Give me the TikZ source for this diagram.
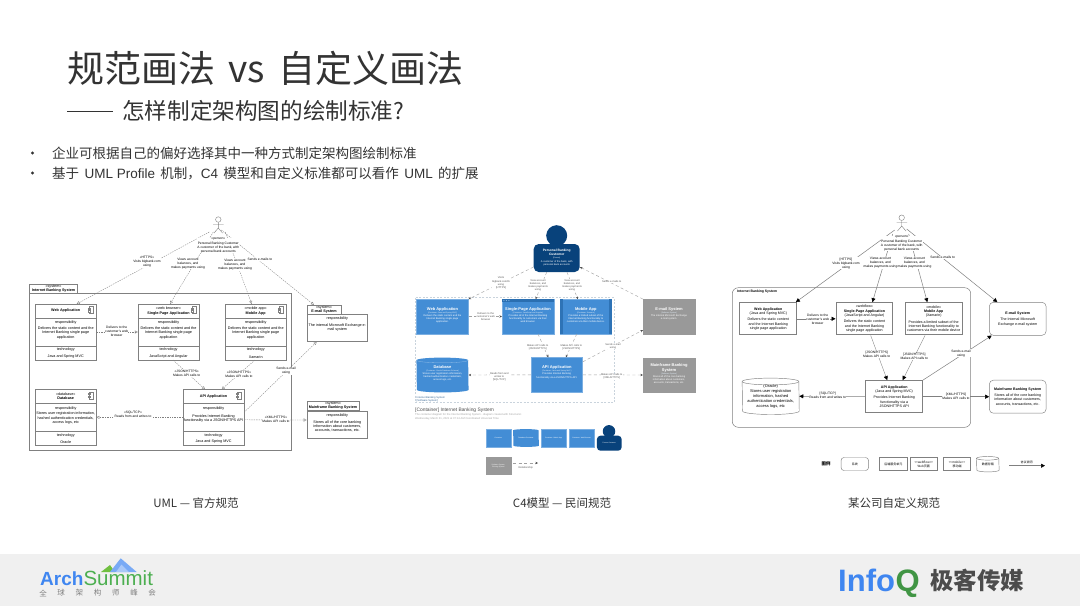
\documentclass[tikz,border=0pt]{standalone}
\usepackage{fontspec}
\usepackage{xcolor}
\usepackage{tikz}
\setmainfont{Liberation Sans}
\newfontfamily\cjk{Noto Sans CJK SC}
\newfontfamily\lat{Liberation Sans}
\usetikzlibrary{arrows.meta, positioning, shapes.geometric}
\definecolor{inkdark}{HTML}{333333}
\definecolor{c4blue}{HTML}{438DD5}
\definecolor{c4dark}{HTML}{08427B}
\definecolor{c4gray}{HTML}{999999}
\definecolor{c4line}{HTML}{A0A0A0}
\definecolor{c4frame}{HTML}{C9D3DC}
\definecolor{linegray}{HTML}{808080}
\definecolor{bandgray}{HTML}{F0F0F0}
\definecolor{logoblue}{HTML}{3F86F0}
\definecolor{logogreen}{HTML}{4CAF50}
% valec pres pojmenovany uzel: #1 uzel, #2 rx, #3 ry
\newcommand{\cylpath}[3]{
  ([yshift=-#3]#1.north west) arc[start angle=180, end angle=0, x radius=#2, y radius=#3]
  -- ([yshift=#3]#1.south east) arc[start angle=0, end angle=-180, x radius=#2, y radius=#3] -- cycle
}
\newcommand{\cyllip}[3]{
  ([yshift=-#3]#1.north west) arc[start angle=180, end angle=360, x radius=#2, y radius=#3]
}
\tikzset{
  tiny/.style={inner sep=0pt, align=center, font=\fontsize{3.3}{4.1}\selectfont},
  boxtxt/.style={inner sep=0pt, align=center, font=\fontsize{3.7}{4.4}\selectfont},
  lbl/.style={tiny, fill=white, inner sep=0.3pt},
  umlbox/.style={draw=linegray, line width=.5pt, fill=white, minimum width=60.7pt, minimum height=55.5pt, inner sep=0pt},
  umltab/.style={draw=linegray, line width=.5pt, fill=white, inner sep=0pt, align=center, font=\fontsize{3.7}{4.2}\selectfont},
  umlflow/.style={draw=linegray, line width=.35pt, dash pattern=on 1.4pt off 1pt, -{Triangle[open, length=3pt, width=3pt]}},
  c4box/.style={fill=c4blue, draw=c4blue!70!white, line width=.4pt, minimum width=51.7pt, minimum height=34.4pt, inner sep=0pt},
  c4gbox/.style={c4box, fill=c4gray, draw=c4gray},
  c4txt/.style={text=white, inner sep=0pt, align=center, font=\fontsize{2.5}{3.1}\selectfont},
  c4flow/.style={draw=c4line, line width=.4pt, dash pattern=on 3pt off 2.5pt, -{Stealth[length=2.6pt, width=2.4pt, color=black!70]}},
  c4lbl/.style={tiny, text=black!65, fill=white, inner sep=0.3pt, font=\fontsize{2.6}{3.2}\selectfont},
  cobox/.style={draw=linegray, line width=1pt, fill=white, minimum width=56.7pt, minimum height=32.3pt, inner sep=0pt, align=center, font=\fontsize{3.6}{4.3}\selectfont},
  corbox/.style={draw=linegray, line width=.45pt, rounded corners=4pt, fill=white, minimum width=56.7pt, minimum height=33pt, inner sep=0pt, align=center, font=\fontsize{3.6}{4.3}\selectfont},
  coflow/.style={draw=linegray, line width=.5pt, -{Triangle[length=4pt, width=4pt, color=black]}},
  legendbox/.style={draw=linegray, line width=.8pt, fill=white, minimum width=27.5pt, minimum height=13pt, inner sep=0pt, align=center, font=\cjk\fontsize{3}{3.6}\selectfont},
}

\begin{document}
\begin{tikzpicture}[x=1pt, y=-1pt, >=Stealth]
  \useasboundingbox (0,0) rectangle (1080,606);
  \fill[white] (0,0) rectangle (1080,606);
  \fill[bandgray] (0,553.5) rectangle (1080,606);

  % Nadpisy
  \node[anchor=west, inner sep=0pt, text=inkdark, font=\cjk\fontsize{37}{44}\selectfont] (title) at (67,68) {规范画法\hspace*{5pt} vs \hspace*{5pt}自定义画法};
  \coordinate (dashstart) at (67,111);
  \coordinate (dashend) at (113,111);
  \node[anchor=west, inner sep=0pt, text=inkdark, font=\cjk\fontsize{22.6}{27}\selectfont] (subtitle) at (122,111) {怎样制定架构图的绘制标准?};
  \draw[inkdark, line width=1pt] (dashstart) -- (dashend);
  \foreach \nm/\yy/\txt in {first/153/{企业可根据自己的偏好选择其中一种方式制定架构图绘制标准}, second/173/{基于\hspace*{2.3pt} {\lat UML Profile} \hspace*{2.3pt}机制，{\lat C4}\hspace*{2.3pt} 模型和自定义标准都可以看作\hspace*{2.3pt} {\lat UML} \hspace*{2.3pt}的扩展}} {
    \node[anchor=west, inner sep=0pt, text=inkdark, font=\cjk\fontsize{13.5}{16}\selectfont] (bullet\nm) at (52,\yy) {\txt};
    \fill[inkdark] (32.5,\yy) circle (1.6);
  }
  \foreach \nm/\xx/\txt in {uml/196/{UML — 官方规范}, cfour/562/{C4模型 — 民间规范}, corp/894/{某公司自定义规范}} {
    \node[inner sep=0pt, text=inkdark, font=\cjk\fontsize{11.5}{14}\selectfont] (caption\nm) at (\xx,503) {\txt};
  }

  % UML
  \node[umltab, minimum width=48.4pt, minimum height=9pt] (sysTab) at (53.5,288.5) {<<system>>\\[-.3pt]\textbf{Internet Banking System}};
  \draw[draw=linegray, line width=.7pt, fill=white] (29.5,293) rectangle (291.7,450.7);
  \foreach \nm/\cx/\cy/\ttl/\desc/\tech in {
    webU/65.7/332/{\textbf{Web Application}}/{Delivers the static content and the\\Internet Banking single page\\application}/{Java and Spring MVC},
    spaU/168.5/332/{<<web browser>>\\\textbf{Single-Page Application}}/{Delivers the static content and the\\Internet Banking single page\\application}/{JavaScript and Angular},
    mobU/255.7/332/{<<mobile app>>\\\textbf{Mobile App}}/{Delivers the static content and the\\Internet Banking single page\\application}/{Xamarin},
    dbU/65.7/417.3/{<<database>>\\\textbf{Database}}/{Stores user registration information,\\hashed authentication credentials,\\access logs, etc}/{Oracle},
    apiU/213.5/417.3/{\textbf{API Application}}/{Provides Internet Banking\\functionality via a JSON/HTTPS API}/{Java and Spring MVC}} {
    \node[umlbox] (\nm) at (\cx,\cy) {};
    \draw[linegray, line width=.4pt] ([yshift=-14pt]\nm.north west) -- ([yshift=-14pt]\nm.north east);
    \draw[linegray, line width=.4pt] ([yshift=14pt]\nm.south west) -- ([yshift=14pt]\nm.south east);
    \node[boxtxt] (\nm-title) at ([yshift=-7pt]\nm.north) {\ttl};
    \node[boxtxt] (\nm-resp) at ([yshift=-19pt]\nm.north) {responsibility};
    \node[boxtxt] (\nm-desc) at ([yshift=-29pt]\nm.north) {\desc};
    \node[boxtxt] (\nm-techhead) at ([yshift=10pt]\nm.south) {technology};
    \node[boxtxt] (\nm-tech) at ([yshift=3.3pt]\nm.south) {\tech};
    % ikona komponenty
    \draw[linegray, line width=.35pt, fill=white] ([xshift=-7pt,yshift=-2.5pt]\nm.north east) rectangle ++(4,7);
    \draw[linegray, line width=.35pt, fill=white] ([xshift=-8pt,yshift=-4pt]\nm.north east) rectangle ++(2,1.2);
    \draw[linegray, line width=.35pt, fill=white] ([xshift=-8pt,yshift=-6.5pt]\nm.north east) rectangle ++(2,1.2);
  }
  \foreach \nm/\tabw/\cy/\hh/\ttl/\desc in {
    mailU/34/328/27.2/{E-mail System}/{The internal Microsoft Exchange e-\\mail system},
    mainU/52/424.5/27/{Mainframe Banking System}/{Stores all of the core banking\\information about customers,\\accounts, transactions, etc.}} {
    \node[umlbox, minimum height=\hh pt] (\nm) at (337.3,\cy) {};
    \node[umltab, minimum width=\tabw pt, minimum height=8.8pt, anchor=south west] (\nm-tab) at (\nm.north west) {<<system>>\\[-.3pt]\textbf{\ttl}};
    \node[boxtxt] (\nm-resp) at ([yshift=-4.5pt]\nm.north) {responsibility};
    \node[boxtxt, anchor=north] (\nm-desc) at ([yshift=-9.5pt]\nm.north) {\desc};
  }
  % actor
  \node[circle, draw=linegray, line width=.4pt, inner sep=0pt, minimum size=5.5pt] (actorU) at (218.3,219.5) {};
  \coordinate (actorUfoot) at (218.3,232);
  \draw[linegray, line width=.4pt] (actorU.south) -- (218.3,228) -- (214,233) (218.3,228) -- (222.5,233) (213,224.5) -- (223.5,224.5);
  \draw[umlflow] ([xshift=-9pt]actorUfoot) -- ([xshift=11pt]webU.north);
  \draw[umlflow] ([xshift=-5pt]actorUfoot) -- ([xshift=1.5pt]spaU.north);
  \draw[umlflow] ([xshift=7pt]actorUfoot) -- ([xshift=-4pt]mobU.north);
  \draw[umlflow] ([xshift=3pt,yshift=2pt]actorUfoot) -- ([xshift=-10pt]mailU-tab.north);
  \draw[umlflow] (webU.east) -- (spaU.west);
  \draw[umlflow] ([xshift=4.5pt]spaU.south) -- ([xshift=-8.5pt]apiU.north);
  \draw[umlflow] ([xshift=-0.7pt]mobU.south) -- ([xshift=8.2pt]apiU.north);
  \draw[umlflow] (apiU.west) -- (dbU.east);
  \draw[umlflow] ([yshift=5pt]apiU.east) -- ([xshift=-20.6pt]mailU.south);
  \draw[umlflow] ([yshift=-2.5pt]apiU.east) -- ([yshift=4.5pt]mainU.west);
  \node[lbl] (actorUtext) at (218.3,245.5) {<<person>>\\Personal Banking Customer\\A customer of the bank, with\\personal bank accounts};
  \node[lbl] (lblU1) at (147,262) {<<HTTPS>>\\Visits bigbank.com\\using};
  \node[lbl] (lblU2) at (188,263.5) {Views account\\balances, and\\makes payments using};
  \node[lbl] (lblU3) at (235,265) {Views account\\balances, and\\makes payments using};
  \node[lbl] (lblU4) at (260,259) {Sends e-mails to};
  \node[lbl] (lblU5) at (116.7,331.7) {Delivers to the\\customer's web\\browser};
  \node[lbl] (lblU6) at (186.7,373) {<<JSON/HTTPS>>\\Makes API calls to};
  \node[lbl] (lblU7) at (239,374) {<<JSON/HTTPS>>\\Makes API calls to};
  \node[lbl] (lblU8) at (133,414.5) {<<SQL/TCP>>\\Reads from and writes to};
  \node[lbl] (lblU9) at (286,371) {Sends e-mail\\using};
  \node[lbl] (lblU10) at (276,419) {<<XML/HTTPS>>\\Makes API calls to};

  % C4
  \draw[c4frame, line width=.5pt, dash pattern=on 2pt off 1.5pt] (415,297.7) rectangle (614,402.7);
  \node[inner sep=0pt, anchor=west, text=c4dark!80, align=left, font=\fontsize{2.6}{3.3}\selectfont] (boundaryC) at (416.5,399) {Internet Banking System\\{[Software System]}};
  \foreach \nm/\cx/\cy/\stl in {
    webC/442.5/316.5/c4box, spaC/528/316.5/c4box, mobC/585.8/316.5/c4box, apiC/556.8/374.8/c4box, mailC/669/316.5/c4gbox, mainC/669/375/c4gbox} {
    \node[\stl] (\nm) at (\cx,\cy) {};
  }
  \node[inner sep=0pt, minimum width=51.7pt, minimum height=34.4pt] (dbC) at (442.5,375) {};
  \fill[c4blue] \cylpath{dbC}{25.85pt}{2.6pt};
  \draw[c4blue!60!white, line width=.3pt] \cyllip{dbC}{25.85pt}{2.6pt};
  % prohlizec a mobil
  \fill[c4dark!40!c4blue] (spaC.north west) rectangle ([yshift=-3pt]spaC.north east);
  \foreach \k in {2,4.5,7} {
    \fill[c4blue!60!white] ([xshift=\k pt,yshift=-1.5pt]spaC.north west) circle (.6);
  }
  \fill[c4dark!35!c4blue] (mobC.north west) rectangle ([xshift=3pt]mobC.south west);
  \fill[c4dark!35!c4blue] ([xshift=-3pt]mobC.north east) rectangle (mobC.south east);
  \foreach \nm/\ttl/\kind/\desc in {
    webC/Web Application/{Container: Java and Spring MVC}/{Delivers the static content and the\\Internet Banking single page\\application.},
    spaC/Single-Page Application/{Container: JavaScript and Angular}/{Provides all of the Internet Banking\\functionality to customers via their\\web browser.},
    mobC/Mobile App/{Container: Xamarin}/{Provides a limited subset of the\\Internet Banking functionality to\\customers via their mobile device.},
    apiC/API Application/{Container: Java and Spring MVC}/{Provides Internet Banking\\functionality via a JSON/HTTPS API.},
    dbC/Database/{Container: Oracle Database Schema}/{Stores user registration information,\\hashed authentication credentials,\\access logs, etc.},
    mailC/E-mail System/{Software System}/{The internal Microsoft Exchange\\e-mail system.},
    mainC/{Mainframe Banking\\System}/{Software System}/{Stores all of the core banking\\information about customers,\\accounts, transactions, etc.}} {
    \node[c4txt, anchor=center, font=\bfseries\fontsize{4}{5}\selectfont] (\nm-title) at ([yshift=7.5pt]\nm.center) {\ttl};
    \node[c4txt, below=0.6pt of \nm-title, font=\fontsize{1.9}{2.4}\selectfont, text=white!85!c4blue] (\nm-kind) {[\kind]};
    \node[c4txt, below=0.8pt of \nm-kind] (\nm-desc) {\desc};
  }
  % osoba
  \node[circle, fill=c4dark, inner sep=0pt, minimum size=21pt] (persC-head) at (556.7,235.7) {};
  \node[fill=c4dark, rounded corners=5pt, inner sep=0pt, minimum width=46pt, minimum height=28pt] (persC) at (556.7,258) {};
  \node[c4txt, font=\bfseries\fontsize{3.3}{4.6}\selectfont] (persC-title) at (556.7,252.5) {Personal Banking\\Customer};
  \node[c4txt, font=\fontsize{1.9}{2.4}\selectfont] (persC-kind) at (556.7,258.2) {[Person]};
  \node[c4txt] (persC-desc) at (556.7,263.5) {A customer of the bank, with\\personal bank accounts};
  % vazby
  \draw[c4flow] ([yshift=-9pt]persC.west) -- (webC.north east);
  \draw[c4flow] ([xshift=-10pt]persC.south) -- ([xshift=7.7pt]spaC.north);
  \draw[c4flow] ([xshift=10.3pt]persC.south) -- ([xshift=-8pt]mobC.north);
  \draw[c4flow] (mailC.north west) -- ([yshift=-9pt]persC.east);
  \draw[c4flow] (webC.east) -- (spaC.west);
  \draw[c4flow] ([xshift=10pt]spaC.south) -- ([xshift=-8.5pt]apiC.north);
  \draw[c4flow] ([xshift=-9pt]mobC.south) -- ([xshift=9pt]apiC.north);
  \draw[c4flow] ([yshift=13pt]apiC.east) -- ([yshift=-13.5pt]mailC.west);
  \draw[c4flow] (apiC.west) -- (dbC.east);
  \draw[c4flow] (apiC.east) -- (mainC.west);
  \node[c4lbl] (lblC1) at (501,283) {Visits\\bigbank.com/ib\\using\\{[HTTPS]}};
  \node[c4lbl] (lblC2) at (538,285.5) {View account\\balances, and\\makes payments\\using};
  \node[c4lbl] (lblC3) at (572,285.5) {View account\\balances, and\\makes payments\\using};
  \node[c4lbl] (lblC4) at (611.7,282) {Sends e-mails to};
  \node[c4lbl] (lblC5) at (485.7,316.7) {Delivers to the\\customer's web\\browser};
  \node[c4lbl] (lblC6) at (537.7,347) {Makes API calls to\\{[JSON/HTTPS]}};
  \node[c4lbl] (lblC7) at (571.3,347) {Makes API calls to\\{[JSON/HTTPS]}};
  \node[c4lbl] (lblC8) at (613,346) {Sends e-mail\\using};
  \node[c4lbl] (lblC9) at (499.3,376.7) {Reads from and\\writes to\\{[SQL/TCP]}};
  \node[c4lbl] (lblC10) at (611.7,376.7) {Makes API calls to\\{[XML/HTTPS]}};
  % popis a legenda
  \node[anchor=west, inner sep=0pt, text=black!70, font=\fontsize{4.9}{6}\selectfont] (headC) at (415,410.7) {[Container] Internet Banking System};
  \node[anchor=north west, inner sep=0pt, text=black!35, align=left, font=\fontsize{2.7}{3.9}\selectfont] (subC) at (415,413.5) {The container diagram for the Internet Banking System - diagram created with Structurizr.\\Wednesday, March 31, 2021 at 07:14 AM Coordinated Universal Time};
  \foreach \nm/\cx/\txt in {legA/498.4/Container, legC/553.6/Container: Mobile App, legD/581.6/Container: Web Browser} {
    \node[c4box, minimum width=25.4pt, minimum height=17.4pt, c4txt, font=\fontsize{1.7}{2.2}\selectfont] (\nm) at (\cx,438) {\txt};
  }
  \node[inner sep=0pt, minimum width=25.4pt, minimum height=17.4pt] (legB) at (526,438) {};
  \fill[c4blue] \cylpath{legB}{12.7pt}{1.2pt};
  \node[c4txt, font=\fontsize{1.7}{2.2}\selectfont] (legB-text) at (legB) {Database Container};
  \node[circle, fill=c4dark, inner sep=0pt, minimum size=12.5pt] (legP-head) at (609,431.3) {};
  \node[fill=c4dark, rounded corners=3.5pt, c4txt, minimum width=24.7pt, minimum height=15pt, font=\fontsize{1.7}{2.2}\selectfont] (legP) at (609.3,443.2) {Person Customer};
  \node[c4gbox, minimum width=25.4pt, minimum height=17pt, c4txt, font=\fontsize{1.7}{2.2}\selectfont] (legG) at (498.4,465.8) {Software System,\\Existing System};
  \coordinate (legFlowEnd) at (538,463);
  \coordinate (legFlowStart) at (513,463);
  \draw[c4flow] (legFlowStart) -- (legFlowEnd);
  \node[c4lbl] (legFlow) at (525.7,467.5) {Relationship};

  % Firemni
  \draw[linegray, line width=.5pt, rounded corners=6pt] (732.3,287.7) rectangle (970.7,427.3);
  \node[anchor=west, inner sep=0pt, font=\bfseries\fontsize{3.4}{4}\selectfont] (frameK) at (737,291.5) {Internet Banking System};
  \foreach \nm/\cx/\cy/\txt in {
    webK/768.3/318.8/{\textbf{Web Application}\\(Java and Spring MVC)\\[2pt]Delivers the static content\\and the Internet Banking\\single page application},
    spaK/864.4/318.8/{<<webflow>>\\\textbf{Single-Page Application}\\(JavaScript and Angular)\\[2pt]Delivers the static content\\and the Internet Banking\\single page application},
    mobK/933.7/318.8/{<<mobile>>\\\textbf{Mobile App}\\(Xamarin)\\[2pt]Provides a limited subset of the\\Internet Banking functionality to\\customers via their mobile device},
    apiK/894.2/396.7/{\textbf{API Application}\\(Java and Spring MVC)\\[2pt]Provides Internet Banking\\functionality via a\\JSON/HTTPS API}} {
    \node[cobox] (\nm) at (\cx,\cy) {\txt};
  }
  \foreach \nm/\cy/\txt in {
    mailK/318.8/{\textbf{E-mail System}\\[2pt]The Internal Microsoft\\Exchange e-mail system},
    mainK/396.7/{\textbf{Mainframe Banking System}\\[2pt]Stores all of the core banking\\information about customers,\\accounts, transactions, etc.}} {
    \node[corbox] (\nm) at (1017.7,\cy) {\txt};
  }
  \node[inner sep=0pt, minimum width=56.7pt, minimum height=36pt, align=center, font=\fontsize{4}{5}\selectfont] (dbK) at (770.7,396.3) {(Oracle)\\Stores user registration\\information, hashed\\authentication credentials,\\access logs, etc};
  \draw[linegray, line width=.45pt] \cylpath{dbK}{28.35pt}{3.4pt};
  \draw[linegray, line width=.45pt] \cyllip{dbK}{28.35pt}{3.4pt};
  \node[circle, draw=linegray, line width=.4pt, inner sep=0pt, minimum size=5.5pt] (actorK) at (901.7,217.7) {};
  \coordinate (actorKfoot) at (901.7,230);
  \draw[linegray, line width=.4pt] (actorK.south) -- (901.7,226) -- (897.5,231) (901.7,226) -- (906,231) (896.5,222.5) -- (907,222.5);
  \draw[coflow] ([xshift=-7pt]actorKfoot) -- ([xshift=27.5pt]webK.north);
  \draw[coflow] ([xshift=-9pt,yshift=-4pt]actorKfoot) -- ([xshift=8pt]spaK.north);
  \draw[coflow] ([xshift=7pt,yshift=-4pt]actorKfoot) -- ([xshift=-6.4pt]mobK.north);
  \draw[coflow] ([xshift=5pt,yshift=1pt]actorKfoot) -- ([xshift=-20.4pt]mailK.north);
  \draw[coflow] (webK.east) -- (spaK.west);
  \draw[coflow, line width=.35pt] ([xshift=6.3pt]spaK.south) -- ([xshift=-7pt]apiK.north);
  \draw[coflow, line width=.35pt] ([xshift=-8.7pt]mobK.south) -- ([xshift=8.5pt]apiK.north);
  \draw[coflow] (apiK.west) -- (dbK.east);
  \draw[coflow] (apiK.east) -- (mainK.west);
  \draw[coflow] (apiK.north east) -- ([xshift=-26pt]mailK.south);
  \node[lbl] (actorKtext) at (901.7,243.5) {<<person>>\\Personal Banking Customer\\A customer of the bank, with\\personal bank accounts};
  \node[lbl] (lblK1) at (846,263.3) {[HTTPS]\\Visits bigbank.com\\using};
  \node[lbl] (lblK2) at (880.5,262.7) {Views account\\balances, and\\makes payments using};
  \node[lbl] (lblK3) at (914.5,262.7) {Views account\\balances, and\\makes payments using};
  \node[lbl] (lblK4) at (942.7,257.3) {Sends e-mails to};
  \node[lbl] (lblK5) at (817.7,319) {Delivers to the\\customer's web\\browser};
  \node[lbl] (lblK6) at (876.7,354.5) {[JSON/HTTPS]\\Makes API calls to};
  \node[lbl] (lblK7) at (914.3,356.7) {[JSON/HTTPS]\\Makes API calls to};
  \node[lbl] (lblK8) at (961,353.3) {Sends e-mail\\using};
  \node[lbl] (lblK9) at (827.7,395.7) {[SQL/TCP]\\Reads from and writes to};
  \node[lbl] (lblK10) at (956,396) {[XML/HTTPS]\\Makes API calls to};
  % legenda
  \node[inner sep=0pt, font=\cjk\bfseries\fontsize{4.4}{5}\selectfont] (legK) at (826,464) {图例};
  \node[legendbox, draw=linegray, line width=.45pt, rounded corners=3pt] (legK1) at (854.8,464) {系统};
  \node[legendbox] (legK2) at (893.3,464.2) {后端服务单元};
  \node[legendbox] (legK3) at (923.8,464.2) {<<webflow>>\\Web页面};
  \node[legendbox] (legK4) at (957,464.2) {<<mobile>>\\移动端};
  \node[inner sep=0pt, minimum width=22.3pt, minimum height=15pt, font=\cjk\fontsize{3}{3.6}\selectfont] (legK5) at (987.8,464.2) {数据存储};
  \draw[linegray, line width=.45pt] \cylpath{legK5}{11.15pt}{1.8pt};
  \draw[linegray, line width=.45pt] \cyllip{legK5}{11.15pt}{1.8pt};
  \coordinate (legKstart) at (1009,465.7);
  \coordinate (legKend) at (1045,465.7);
  \draw[coflow] (legKstart) -- (legKend);
  \node[inner sep=0pt, font=\cjk\fontsize{3}{3.6}\selectfont] (legKtext) at (1026.7,462.3) {协议说明};

  % Loga
  \fill[logogreen!80!yellow] (101,572) -- (110,565) -- (115,572) -- cycle;
  \fill[logoblue!70!white] (110,572) -- (120.7,558.3) -- (136.7,572) -- cycle;
  \fill[logoblue!45!white] (116,572) -- (121.5,564.5) -- (129,572) -- cycle;
  \node[anchor=base west, inner sep=0pt, text=logoblue, font=\bfseries\fontsize{19}{22}\selectfont] (logoArch) at (40,585.7) {Arch};
  \node[anchor=base west, inner sep=0pt, text=logogreen, font=\fontsize{20.5}{24}\selectfont] (logoSummit) at (83.3,585.7) {Summit};
  \foreach \ch [count=\i] in {全,球,架,构,师,峰,会} {
    \node[inner sep=0pt, text=black!50, font=\cjk\fontsize{7.5}{9}\selectfont] (logoCh\i) at ({43+18.2*(\i-1)},593) {\ch};
  }
  \node[anchor=base west, inner sep=0pt, text=logoblue, font=\bfseries\fontsize{31}{36}\selectfont] (logoInfo) at (838,591.5) {Info};
  \node[anchor=base west, inner sep=0pt, text=logogreen!85!black, font=\bfseries\fontsize{31}{36}\selectfont] (logoQ) at (895.5,591.5) {Q};
  \node[anchor=west, inner sep=0pt, text=black!70, font=\cjk\bfseries\fontsize{23.5}{28}\selectfont] (logoGeek) at (930,580) {极客传媒};
\end{tikzpicture}
\end{document}
